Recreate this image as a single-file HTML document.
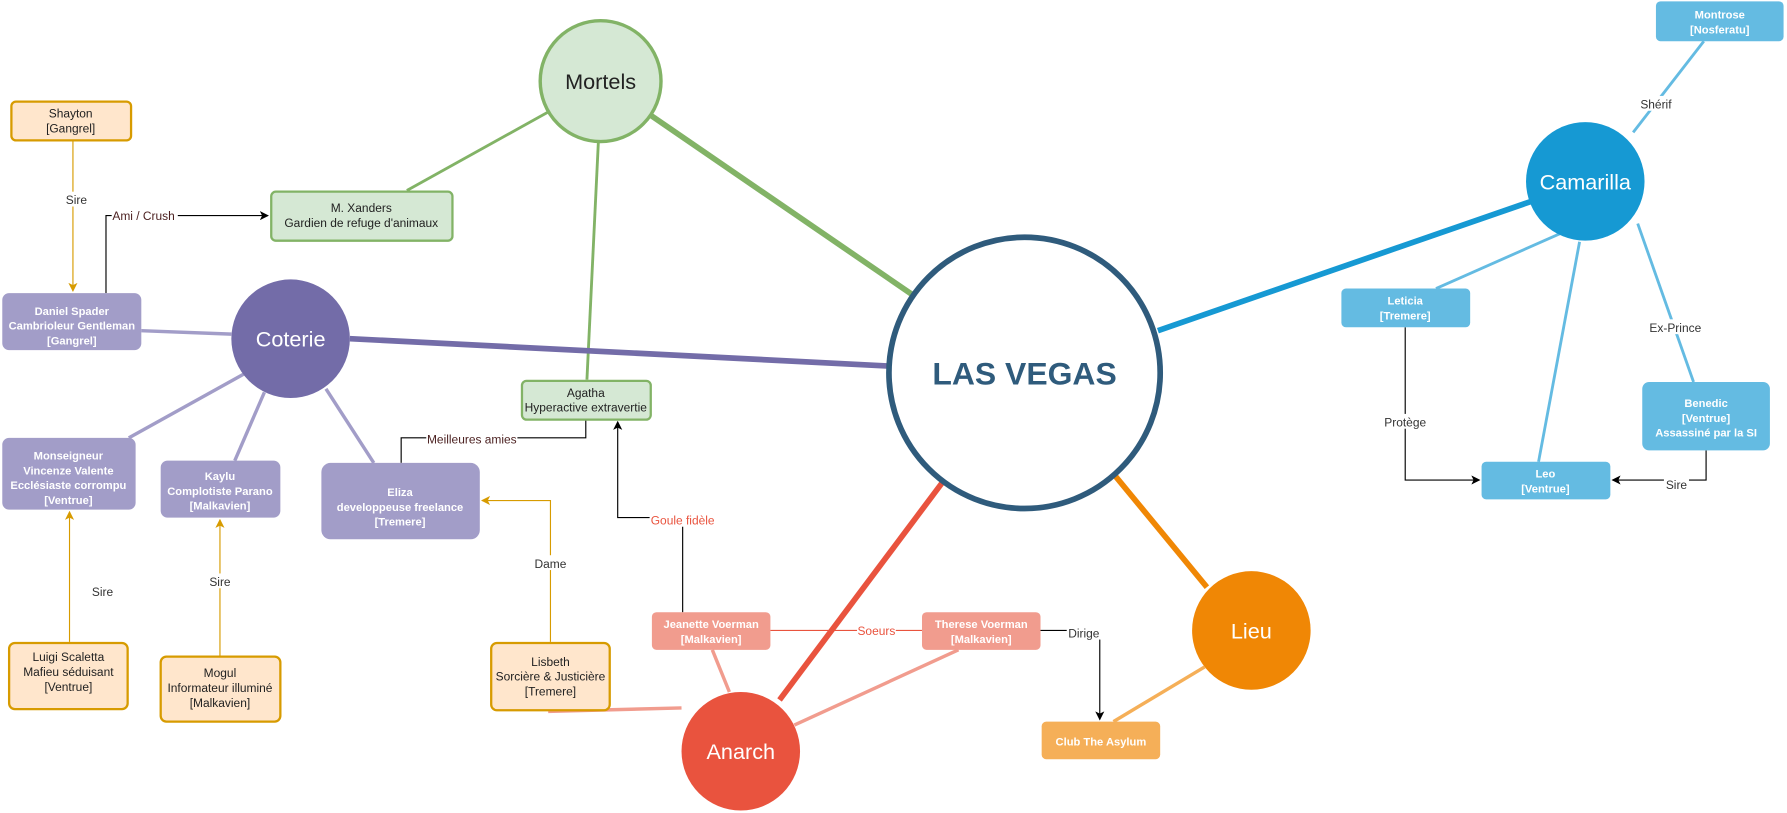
<!DOCTYPE html>
<html><head><meta charset="utf-8"><style>
html,body{margin:0;padding:0;background:#fff;}
svg{display:block;}
text{font-family:"Liberation Sans",Arial,sans-serif;}
</style></head><body>
<svg width="1787" height="813" viewBox="0 0 1568 713" xmlns="http://www.w3.org/2000/svg">
<defs>
<marker id="ab" markerWidth="8" markerHeight="8" refX="7" refY="4" orient="auto" markerUnits="userSpaceOnUse"><path d="M0,0 L8,4 L0,8 L2,4 z" fill="#000"/></marker>
<marker id="ao" markerWidth="8" markerHeight="8" refX="7" refY="4" orient="auto" markerUnits="userSpaceOnUse"><path d="M0,0 L8,4 L0,8 L2,4 z" fill="#d79b00"/></marker>
</defs>
<g fill="none" stroke-linecap="butt">
<line x1="571" y1="101" x2="800" y2="258" stroke="#82b366" stroke-width="5"/>
<line x1="483" y1="97" x2="357" y2="167" stroke="#82b366" stroke-width="2.5"/>
<line x1="525" y1="125" x2="515" y2="333" stroke="#82b366" stroke-width="2.5"/>
<line x1="307" y1="297" x2="780" y2="321" stroke="#736ca8" stroke-width="5"/>
<line x1="124" y1="290" x2="203" y2="293" stroke="#a29dc8" stroke-width="3"/>
<line x1="214" y1="328" x2="113" y2="384" stroke="#a29dc8" stroke-width="3"/>
<line x1="232" y1="344" x2="206" y2="404" stroke="#a29dc8" stroke-width="3"/>
<line x1="286" y1="341" x2="328" y2="406" stroke="#a29dc8" stroke-width="3"/>
<line x1="1348" y1="175" x2="1016" y2="290" stroke="#1699d3" stroke-width="5"/>
<line x1="1433" y1="116" x2="1495" y2="36" stroke="#64bbe2" stroke-width="2.5"/>
<line x1="1373" y1="203" x2="1260" y2="253" stroke="#64bbe2" stroke-width="2.5"/>
<line x1="1386" y1="212" x2="1350" y2="405" stroke="#64bbe2" stroke-width="2.5"/>
<line x1="1437" y1="196" x2="1486" y2="335" stroke="#64bbe2" stroke-width="2.5"/>
<line x1="684" y1="614" x2="827" y2="423" stroke="#e9533e" stroke-width="5"/>
<line x1="640" y1="607" x2="625" y2="570" stroke="#f19c8e" stroke-width="3"/>
<line x1="697" y1="636" x2="841" y2="570" stroke="#f19c8e" stroke-width="3"/>
<line x1="598" y1="621" x2="481" y2="624" stroke="#f19c8e" stroke-width="3"/>
<line x1="1059" y1="515" x2="979" y2="418" stroke="#f08705" stroke-width="5"/>
<line x1="1057" y1="585" x2="977" y2="633" stroke="#f5af58" stroke-width="3"/>
</g>
<g fill="none" stroke-width="1">
<polyline points="1233,287 1233,421 1298,421" stroke="#000" marker-end="url(#ab)"/>
<polyline points="1497,395 1497,421 1415,421" stroke="#000" marker-end="url(#ab)"/>
<polyline points="913,553 965,553 965,631" stroke="#000" marker-end="url(#ab)"/>
<line x1="676" y1="553" x2="809" y2="553" stroke="#e9533e"/>
<polyline points="599,537 599,454 542,454 542,370" stroke="#000" marker-end="url(#ab)"/>
<polyline points="514,368 514,384 352,384 352,406" stroke="#000"/>
<polyline points="483,563 483,439 423,439" stroke="#d79b00" marker-end="url(#ao)"/>
<polyline points="61,563 61,449" stroke="#d79b00" marker-end="url(#ao)"/>
<polyline points="193,575 193,456" stroke="#d79b00" marker-end="url(#ao)"/>
<polyline points="64,123 64,255" stroke="#d79b00" marker-end="url(#ao)"/>
<polyline points="93,257 93,189 235,189" stroke="#000" marker-end="url(#ab)"/>
</g>
<g font-size="10.5" text-anchor="middle" fill="#333">
<rect x="1438" y="84" width="30" height="13" fill="#fff"/><text x="1453" y="95">Shérif</text>
<rect x="1445" y="280" width="50" height="13" fill="#fff"/><text x="1470" y="291">Ex-Prince</text>
<rect x="1212" y="363" width="42" height="13" fill="#fff"/><text x="1233" y="374">Protège</text>
<rect x="1460" y="419" width="22" height="13" fill="#fff"/><text x="1471" y="429">Sire</text>
<rect x="936" y="548" width="30" height="13" fill="#fff"/><text x="951" y="559">Dirige</text>
<rect x="752" y="547" width="34" height="13" fill="#fff"/><text x="769" y="557" fill="#e9533e">Soeurs</text>
<rect x="570" y="449" width="58" height="13" fill="#fff"/><text x="599" y="460" fill="#e9533e">Goule fidèle</text>
<rect x="374" y="378" width="80" height="13" fill="#fff"/><text x="414" y="389" fill="#4a1f1f">Meilleures amies</text>
<rect x="468" y="487" width="30" height="13" fill="#fff"/><text x="483" y="498">Dame</text>
<text x="90" y="523">Sire</text>
<rect x="182" y="503" width="22" height="13" fill="#fff"/><text x="193" y="514">Sire</text>
<rect x="56" y="168" width="22" height="13" fill="#fff"/><text x="67" y="179">Sire</text>
<rect x="98" y="182" width="58" height="13" fill="#fff"/><text x="126" y="193" fill="#4a1f1f">Ami / Crush</text>
</g>
<circle cx="527" cy="71" r="53" fill="#d5e8d4" stroke="#82b366" stroke-width="3"/>
<text x="527" y="78" font-size="19" text-anchor="middle" fill="#222">Mortels</text>
<circle cx="899" cy="327" r="119" fill="#fff" stroke="#2f5b7c" stroke-width="5"/>
<text x="899" y="337" font-size="28" font-weight="bold" text-anchor="middle" fill="#2f5b7c">LAS VEGAS</text>
<circle cx="255" cy="297" r="52" fill="#736ca8"/>
<text x="255" y="304" font-size="19" text-anchor="middle" fill="#fff">Coterie</text>
<circle cx="1391" cy="159" r="52" fill="#1699d3"/>
<text x="1391" y="166" font-size="19" text-anchor="middle" fill="#fff">Camarilla</text>
<circle cx="650" cy="659" r="52" fill="#e9533e"/>
<text x="650" y="666" font-size="19" text-anchor="middle" fill="#fff">Anarch</text>
<circle cx="1098" cy="553" r="52" fill="#f08705"/>
<text x="1098" y="560" font-size="19" text-anchor="middle" fill="#fff">Lieu</text>
<g font-size="10.5" text-anchor="middle">
<rect x="10" y="89" width="105" height="34" rx="4" fill="#ffe6cc" stroke="#d79b00" stroke-width="2"/>
<text x="62" y="103" fill="#222">Shayton</text><text x="62" y="116" fill="#222">[Gangrel]</text>
<rect x="238" y="168" width="159" height="43" rx="4" fill="#d5e8d4" stroke="#82b366" stroke-width="2"/>
<text x="317" y="186" fill="#222">M. Xanders</text><text x="317" y="199" fill="#222">Gardien de refuge d'animaux</text>
<rect x="458" y="334" width="113" height="34" rx="4" fill="#d5e8d4" stroke="#82b366" stroke-width="2"/>
<text x="514" y="348" fill="#222">Agatha</text><text x="514" y="361" fill="#222">Hyperactive extravertie</text>
<g fill="#fff" font-weight="bold" font-size="9.8">
<rect x="2" y="257" width="122" height="50" rx="6" fill="#a29dc8"/>
<text x="63" y="276">Daniel Spader</text><text x="63" y="289">Cambrioleur Gentleman</text><text x="63" y="302">[Gangrel]</text>
<rect x="2" y="384" width="117" height="63" rx="6" fill="#a29dc8"/>
<text x="60" y="403">Monseigneur</text><text x="60" y="416">Vincenze Valente</text><text x="60" y="429">Ecclésiaste corrompu</text><text x="60" y="442">[Ventrue]</text>
<rect x="141" y="404" width="105" height="50" rx="6" fill="#a29dc8"/>
<text x="193" y="421">Kaylu</text><text x="193" y="434">Complotiste Parano</text><text x="193" y="447">[Malkavien]</text>
<rect x="282" y="406" width="139" height="67" rx="8" fill="#a29dc8"/>
<text x="351" y="435">Eliza</text><text x="351" y="448">developpeuse freelance</text><text x="351" y="461">[Tremere]</text>
<rect x="572" y="537" width="104" height="33" rx="4" fill="#f19c8e"/>
<text x="624" y="551">Jeanette Voerman</text><text x="624" y="564">[Malkavien]</text>
<rect x="809" y="537" width="104" height="33" rx="4" fill="#f19c8e"/>
<text x="861" y="551">Therese Voerman</text><text x="861" y="564">[Malkavien]</text>
<rect x="914" y="633" width="104" height="33" rx="4" fill="#f5af58"/>
<text x="966" y="654">Club The Asylum</text>
<rect x="1453" y="1" width="112" height="35" rx="4" fill="#64bbe2"/>
<text x="1509" y="16">Montrose</text><text x="1509" y="29">[Nosferatu]</text>
<rect x="1177" y="253" width="113" height="34" rx="4" fill="#64bbe2"/>
<text x="1233" y="267">Leticia</text><text x="1233" y="280">[Tremere]</text>
<rect x="1441" y="335" width="112" height="60" rx="6" fill="#64bbe2"/>
<text x="1497" y="357">Benedic</text><text x="1497" y="370">[Ventrue]</text><text x="1497" y="383">Assassiné par la SI</text>
<rect x="1300" y="405" width="113" height="33" rx="4" fill="#64bbe2"/>
<text x="1356" y="419">Leo</text><text x="1356" y="432">[Ventrue]</text>
</g>
<rect x="8" y="564" width="104" height="58" rx="5" fill="#ffe6cc" stroke="#d79b00" stroke-width="2"/>
<text x="60" y="580" fill="#222">Luigi Scaletta</text><text x="60" y="593" fill="#222">Mafieu séduisant</text><text x="60" y="606" fill="#222">[Ventrue]</text>
<rect x="141" y="576" width="105" height="57" rx="5" fill="#ffe6cc" stroke="#d79b00" stroke-width="2"/>
<text x="193" y="594" fill="#222">Mogul</text><text x="193" y="607" fill="#222">Informateur illuminé</text><text x="193" y="620" fill="#222">[Malkavien]</text>
<rect x="431" y="564" width="104" height="59" rx="5" fill="#ffe6cc" stroke="#d79b00" stroke-width="2"/>
<text x="483" y="584" fill="#222">Lisbeth</text><text x="483" y="597" fill="#222">Sorcière &amp; Justicière</text><text x="483" y="610" fill="#222">[Tremere]</text>
</g>
</svg>
</body></html>
